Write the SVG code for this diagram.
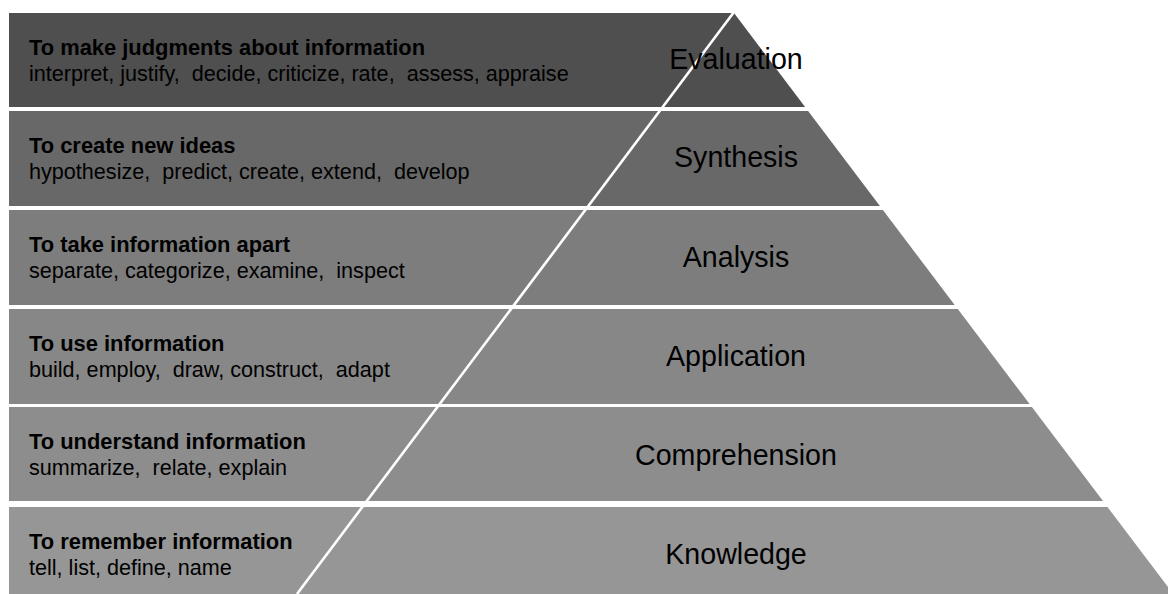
<svg xmlns="http://www.w3.org/2000/svg" width="1168" height="594" viewBox="0 0 1168 594">
<style>
.t{font-family:"Liberation Sans",Arial,sans-serif;fill:#000;white-space:pre}
.b{font-size:21.9px;font-weight:bold}
.r{font-size:21.6px}
.l{font-size:28.6px;text-anchor:middle}
</style>
<rect width="1168" height="594" fill="#fff"/>
<g id="evaluation">
<polygon points="9,13 734,13 805.1,107 9,107" fill="#4f4f4f"/>
<text class="t b" x="29" y="54.5">To make judgments about information</text>
<text class="t r" x="29" y="81">interpret, justify,  decide, criticize, rate,  assess, appraise</text>
</g>
<g id="synthesis">
<polygon points="9,111 808.1,111 879.9,206 9,206" fill="#686868"/>
<text class="t b" x="29" y="152.5">To create new ideas</text>
<text class="t r" x="29" y="179">hypothesize,  predict, create, extend,  develop</text>
</g>
<g id="analysis">
<polygon points="9,210 882.9,210 954.7,305 9,305" fill="#7d7d7d"/>
<text class="t b" x="29" y="251.5">To take information apart</text>
<text class="t r" x="29" y="278">separate, categorize, examine,  inspect</text>
</g>
<g id="application">
<polygon points="9,309 957.8,309 1029.6,404 9,404" fill="#878787"/>
<text class="t b" x="29" y="350.5">To use information</text>
<text class="t r" x="29" y="377">build, employ,  draw, construct,  adapt</text>
</g>
<g id="comprehension">
<polygon points="9,407 1031.9,407 1103,501 9,501" fill="#8d8d8d"/>
<text class="t b" x="29" y="448.5">To understand information</text>
<text class="t r" x="29" y="475">summarize,  relate, explain</text>
</g>
<g id="knowledge">
<polygon points="9,507 1107.5,507 1173.3,594 9,594" fill="#969696"/>
<text class="t b" x="29" y="548.5">To remember information</text>
<text class="t r" x="29" y="575">tell, list, define, name</text>
</g>
<g id="divider">
<line x1="734" y1="12" x2="297" y2="594" stroke="#fff" stroke-width="2.6"/>
</g>
<g id="levels">
<text class="t l" x="736" y="68.5">Evaluation</text>
<text class="t l" x="736" y="167">Synthesis</text>
<text class="t l" x="736" y="267">Analysis</text>
<text class="t l" x="736" y="366">Application</text>
<text class="t l" x="736" y="465">Comprehension</text>
<text class="t l" x="736" y="564">Knowledge</text>
</g>
</svg>
